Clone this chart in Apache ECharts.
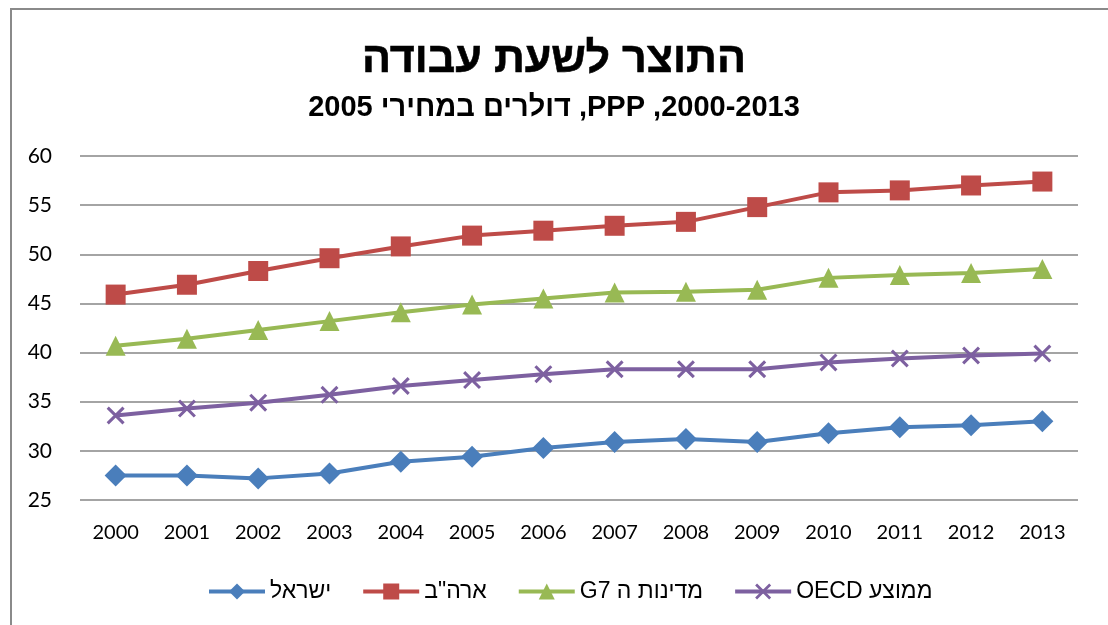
<!DOCTYPE html>
<html>
<head>
<meta charset="utf-8">
<script src="https://cdn.jsdelivr.net/npm/echarts@6/dist/echarts.min.js"></script>
<style>
html,body{margin:0;padding:0;background:#fff;}
#c{width:1108px;height:625px;}
</style>
</head>
<body>
<div id="c" dir="rtl"></div>
<script>
const years = ['2000','2001','2002','2003','2004','2005','2006','2007','2008','2009','2010','2011','2012','2013'];
const israel = [27.5,27.5,27.2,27.7,28.9,29.4,30.3,30.9,31.2,30.9,31.8,32.4,32.6,33.0];
const usa = [45.9,46.9,48.3,49.6,50.8,51.9,52.4,52.9,53.3,54.8,56.3,56.5,57.0,57.4];
const g7 = [40.7,41.4,42.3,43.2,44.1,44.9,45.5,46.1,46.2,46.4,47.6,47.9,48.1,48.5];
const oecd = [33.6,34.3,34.9,35.7,36.6,37.2,37.8,38.3,38.3,38.3,39.0,39.4,39.7,39.9];
const seriesNames = ['ישראל','ארה"ב','מדינות ה G7','ממוצע OECD'];
const titleText = 'התוצר לשעת עבודה';
const subtitleText = '2000-2013, PPP, דולרים במחירי 2005';

const colors = ['#4A7EBB','#BE4B48','#98B954','#7D60A0'];
const xPath = 'path://M0,1.2L1.2,0L10,8.8L8.8,10Z M8.8,0L10,1.2L1.2,10L0,8.8Z';
const font = 'Lato, "Liberation Sans", sans-serif';
const legendFont = '"Liberation Sans", Arial, sans-serif';
const titleFont = '"Liberation Sans", Arial, sans-serif';

const chart = echarts.init(document.getElementById('c'), null, {renderer:'canvas'});
const mk = (name, data, color, symbol, size) => ({
  name, type:'line', data, symbol, symbolSize:size,
  lineStyle:{color, width:4}, itemStyle:{color},
  emphasis:{disabled:true}, animation:false
});
chart.setOption({
  backgroundColor:'#fff',
  title:[
    {text:titleText, left:'center', top:34, textStyle:{fontFamily:titleFont, fontWeight:'bold', fontSize:43, color:'#000', textBorderColor:'#000', textBorderWidth:0.6}},
    {text:subtitleText, left:'center', top:88, textStyle:{fontFamily:titleFont, fontWeight:'bold', fontSize:29, color:'#000'}}
  ],
  grid:{left:80, right:30, top:156, bottom:125},
  legend:{
    bottom:17, left:202, itemWidth:56, itemHeight:20, itemGap:30,
    lineStyle:{width:4},
    textStyle:{fontFamily:legendFont, fontSize:23, color:'#000'},
    data:seriesNames
  },
  xAxis:{
    type:'category', data:years, boundaryGap:true,
    axisLine:{show:false}, axisTick:{show:false},
    axisLabel:{fontFamily:font, fontSize:20, color:'#000', margin:23}
  },
  yAxis:{
    type:'value', min:25, max:60, interval:5,
    axisLine:{show:false}, axisTick:{show:false},
    axisLabel:{fontFamily:font, fontSize:21, color:'#000', margin:28, align:'right'},
    splitLine:{lineStyle:{color:'#868686', width:1.5}}
  },
  graphic:[
    {type:'line', shape:{x1:11, y1:9, x2:11, y2:625}, style:{stroke:'#8a8a8a', lineWidth:2}},
    {type:'line', shape:{x1:10, y1:9, x2:1108, y2:9}, style:{stroke:'#8a8a8a', lineWidth:2}}
  ],
  series:[
    mk(seriesNames[0], israel, colors[0], 'diamond', 22),
    mk(seriesNames[1], usa, colors[1], 'rect', 20),
    mk(seriesNames[2], g7, colors[2], 'triangle', 20),
    mk(seriesNames[3], oecd, colors[3], xPath, 18)
  ]
});
</script>
</body>
</html>
